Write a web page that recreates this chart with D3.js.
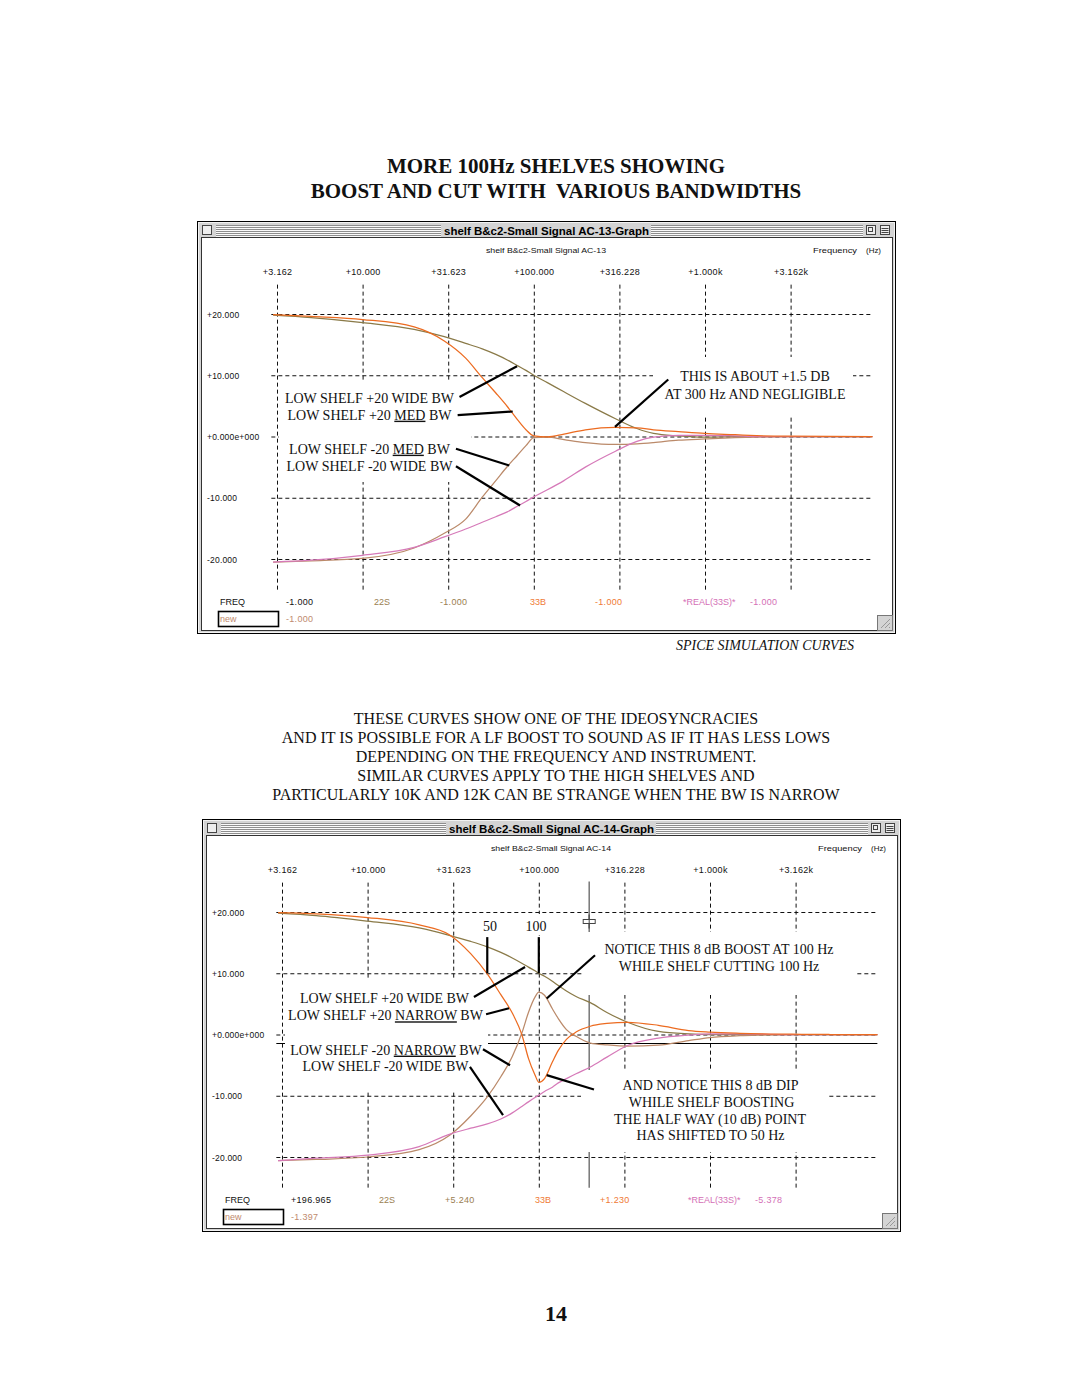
<!DOCTYPE html>
<html><head><meta charset="utf-8">
<script src="https://cdn.jsdelivr.net/npm/d3@7/dist/d3.min.js"></script>
<style>body{margin:0;background:#fff}svg{display:block}</style>
</head><body>
<svg id="page" width="1080" height="1397"></svg>
<script>
// ---------------- DATA ----------------
const xTickValues = [3.162, 10, 31.623, 100, 316.228, 1000, 3162.28];
const xTickLabels = ["+3.162", "+10.000", "+31.623", "+100.000", "+316.228", "+1.000k", "+3.162k"];
const yTickValues = [20, 10, 0, -10, -20];
const yTickLabels = ["+20.000", "+10.000", "+0.000e+000", "-10.000", "-20.000"];

// Graph AC-13 (top)
const topFreq      = [3, 5, 10, 20, 30, 40, 50, 60, 70, 80, 90, 100, 120, 150, 200, 300, 400, 500, 700, 1000, 1500, 2000, 3000, 9500];
const topWidePlus  = [19.8, 19.4, 18.6, 17.5, 16.3, 15.2, 14.3, 13.4, 12.5, 11.6, 10.8, 10.0, 8.8, 7.3, 5.4, 2.9, 1.3, 0.5, 0.1, -0.1, 0, 0, 0, 0];
const topMedPlus   = [19.9, 19.6, 19.1, 17.9, 15.6, 12.8, 9.6, 7.1, 4.9, 2.8, 1.1, 0.1, -0.05, 0.4, 1.1, 1.5, 1.4, 1.1, 0.8, 0.5, 0.3, 0.15, 0.05, 0];
const topMedMinus  = [-20.5, -20.3, -19.9, -18.2, -15.8, -13.5, -9.9, -7.2, -4.9, -3.1, -1.5, -0.2, -0.1, -0.5, -1.0, -1.3, -1.2, -1.0, -0.6, -0.4, -0.2, -0.1, 0, 0];
const topWideMinus = [-20.5, -20.2, -19.4, -18.1, -16.4, -15.1, -14.0, -13.1, -12.3, -11.4, -10.6, -9.85, -8.7, -7.2, -5.0, -2.4, -0.8, -0.1, 0.2, 0.2, 0.1, 0, 0, 0];

// Graph AC-14 (bottom)
const botFreq        = [3, 5, 10, 20, 30, 40, 50, 60, 70, 80, 87, 95, 100, 108, 120, 130, 145, 165, 200, 250, 330, 500, 750, 1000, 1500, 2000, 3000, 5000, 9500];
const botWidePlus    = [19.8, 19.4, 18.5, 17.4, 16.2, 15.2, 14.3, 13.4, 12.5, 11.6, 11.0, 10.4, 10.0, 9.5, 8.7, 8.0, 7.1, 6.2, 5.2, 3.6, 2.0, 0.5, 0.1, 0, 0, 0, 0, 0, 0];
const botNarrowPlus  = [19.9, 19.7, 19.1, 17.9, 16.3, 13.2, 9.9, 6.5, 3.5, -0.2, -3.9, -6.6, -7.8, -7.2, -4.5, -2.6, -0.8, 0.4, 1.35, 1.8, 2.0, 1.5, 0.65, 0.4, 0.2, 0.1, 0.05, 0, 0];
const botNarrowMinus = [-20.6, -20.4, -20.0, -18.8, -16.5, -13.3, -10.2, -6.9, -3.6, 0.4, 3.6, 6.1, 6.9, 6.4, 4.2, 2.6, 0.8, -0.3, -1.4, -1.7, -1.9, -1.75, -1.0, -0.5, -0.2, -0.1, 0, 0, 0];
const botWideMinus   = [-20.6, -20.2, -19.7, -18.3, -16.3, -15.3, -14.6, -13.8, -12.8, -11.7, -11.0, -10.3, -9.9, -9.3, -8.6, -7.9, -7.2, -6.4, -5.3, -3.7, -1.8, -0.6, -0.1, 0.1, 0.1, 0.05, 0, 0, 0];

// status / cursor readouts
const statusNames      = ["22S", "33B", "*REAL(33S)*", "new"];
const topFreqReadout   = "-1.000";
const topStatusValues  = ["-1.000", "-1.000", "-1.000", "-1.000"];
const botFreqReadout   = "+196.965";
const botStatusValues  = ["+5.240", "+1.230", "-5.378", "-1.397"];
const botCursorFreq = 196.965;
const botCursorDb   = -1.397;

// ---------------- STYLE ----------------
const SANS = "'Liberation Sans', Arial, sans-serif";
const SERIF = "'Liberation Serif', 'Times New Roman', serif";
const C_WIDEP = "#8a7a48", C_NARP = "#ec6b20", C_WIDEM = "#d67ab9", C_NARM = "#bb8a6a";
const C_ST = ["#9a7e50", "#ef7a35", "#d46fb6", "#c08a6e"];

const svg = d3.select("#page");

function txt(g, x, y, s, o = {}) {
  const t = g.append("text").attr("x", x).attr("y", y)
    .attr("font-family", o.family || SANS).attr("font-size", o.size || 9)
    .attr("fill", o.fill || "#111").attr("text-anchor", o.anchor || "start");
  if (o.weight) t.attr("font-weight", o.weight);
  if (o.style) t.attr("font-style", o.style);
  if (o.ls) t.attr("letter-spacing", o.ls);
  if (o.len) t.attr("textLength", o.len).attr("lengthAdjust", "spacingAndGlyphs");
  if (Array.isArray(s)) {
    s.forEach(p => {
      const ts = t.append("tspan").text(p.t);
      if (p.u) ts.attr("text-decoration", "underline");
    });
  } else t.text(s);
  return t;
}

// ---------------- PAGE TEXT ----------------
txt(svg, 556, 172.5, "MORE 100Hz SHELVES SHOWING", {family: SERIF, size: 21, weight: "bold", anchor: "middle"});
txt(svg, 556, 198, "BOOST AND CUT WITH\u00a0 VARIOUS BANDWIDTHS", {family: SERIF, size: 21, weight: "bold", anchor: "middle"});
txt(svg, 765, 650, "SPICE SIMULATION CURVES", {family: SERIF, size: 14, style: "italic", anchor: "middle"});
const para = ["THESE CURVES SHOW ONE OF THE IDEOSYNCRACIES",
  "AND IT IS POSSIBLE FOR A LF BOOST TO SOUND AS IF IT HAS LESS LOWS",
  "DEPENDING ON THE FREQUENCY AND INSTRUMENT.",
  "SIMILAR CURVES APPLY TO THE HIGH SHELVES AND",
  "PARTICULARLY 10K AND 12K CAN BE STRANGE WHEN THE BW IS NARROW"];
para.forEach((s, i) => txt(svg, 556, 723.5 + i * 19, s, {family: SERIF, size: 16, anchor: "middle"}));
txt(svg, 556, 1321, "14", {family: SERIF, size: 22, weight: "bold", anchor: "middle"});

// ---------------- GRAPH ----------------
function drawGraph(cfg) {
  const g = svg.append("g").attr("transform", `translate(${cfg.ox},${cfg.oy})`);
  // window chrome
  g.append("rect").attr("x", 197.5).attr("y", 221.5).attr("width", 698).attr("height", 412)
    .attr("fill", "#d4d4d4").attr("stroke", "#000");
  g.append("rect").attr("x", 198.5).attr("y", 222.5).attr("width", 696).attr("height", 410)
    .attr("fill", "none").attr("stroke", "#f2f2f2");
  [[216, 441], [651, 863]].forEach(([a, b]) => {
    for (let i = 0; i < 6; i++) {
      const yy = 225 + i * 2;
      g.append("line").attr("x1", a).attr("x2", b).attr("y1", yy + 0.5).attr("y2", yy + 0.5).attr("stroke", "#8e8e8e");
      g.append("line").attr("x1", a).attr("x2", b).attr("y1", yy + 1.5).attr("y2", yy + 1.5).attr("stroke", "#fafafa");
    }
  });
  txt(g, 546.5, 234.5, cfg.title, {size: 10, weight: "bold", anchor: "middle", len: 205, fill: "#000"});
  g.append("rect").attr("x", 202.5).attr("y", 225.5).attr("width", 9).attr("height", 9).attr("fill", "#eee").attr("stroke", "#444");
  [866.5, 880.5].forEach((bx, i) => {
    g.append("rect").attr("x", bx).attr("y", 225.5).attr("width", 9).attr("height", 9).attr("fill", "#eee").attr("stroke", "#444");
    if (i === 0) g.append("rect").attr("x", bx + 2).attr("y", 227.5).attr("width", 4).attr("height", 4).attr("fill", "none").attr("stroke", "#444");
    else [228.5, 230.5, 232.5].forEach(ly => g.append("line").attr("x1", bx + 1).attr("x2", bx + 8).attr("y1", ly).attr("y2", ly).attr("stroke", "#444"));
  });
  g.append("rect").attr("x", 201.5).attr("y", 237.5).attr("width", 691).attr("height", 393)
    .attr("fill", "#fff").attr("stroke", "#333");
  g.append("rect").attr("x", 877.5).attr("y", 615.5).attr("width", 15).attr("height", 15)
    .attr("fill", "#d4d4d4").attr("stroke", "#777");
  [0, 4, 8].forEach(k => g.append("line").attr("x1", 881 + k).attr("y1", 628).attr("x2", 890).attr("y2", 619 + k)
    .attr("stroke", "#999"));

  // header texts
  txt(g, 546, 253, cfg.subtitle, {size: 8, anchor: "middle", len: 120});
  txt(g, 813, 253, "Frequency", {size: 8, len: 44});
  txt(g, 866, 253, "(Hz)", {size: 8, len: 15});

  // scales
  const x = d3.scaleLog().domain([xTickValues[0], xTickValues[6]]).range([277, 277 + 6 * 85.6]);
  const y = d3.scaleLinear().domain([20, -20]).range([314, 559]);
  const gx0 = x(2.93), gx1 = x(9250), gy0 = y(25), gy1 = y(-25);

  // vertical grid
  const vg = g.append("g").attr("transform", `translate(0,${gy1})`)
    .call(d3.axisBottom(x).tickValues(xTickValues).tickSize(-(gy1 - gy0)).tickFormat(""));
  vg.select(".domain").remove();
  vg.selectAll("line").attr("stroke", "#111").attr("stroke-dasharray", "4,3");
  // horizontal grid
  const hg = g.append("g").attr("transform", `translate(${gx0},0)`)
    .call(d3.axisLeft(y).tickValues(yTickValues).tickSize(-(gx1 - gx0)).tickFormat(""));
  hg.select(".domain").remove();
  hg.selectAll("line").attr("stroke", "#111").attr("stroke-dasharray", "4,3");

  // x tick labels
  const xl = g.append("g").attr("transform", "translate(0,275)")
    .call(d3.axisTop(x).tickValues(xTickValues).tickSize(0).tickPadding(0).tickFormat((d, i) => xTickLabels[i]));
  xl.select(".domain").remove();
  xl.selectAll("text").attr("font-family", SANS).attr("font-size", 9).attr("fill", "#111").attr("dy", 0).attr("letter-spacing", 0.3);
  // y tick labels
  const yl = g.append("g").attr("transform", "translate(207,3)")
    .call(d3.axisLeft(y).tickValues(yTickValues).tickSize(0).tickPadding(0).tickFormat((d, i) => yTickLabels[i]));
  yl.select(".domain").remove();
  yl.selectAll("text").attr("font-family", SANS).attr("font-size", 8.5).attr("fill", "#111")
    .attr("text-anchor", "start").attr("x", 0).attr("dy", 0).attr("letter-spacing", 0.2);

  // cursors
  if (cfg.cursor) {
    const cyl = Math.round(y(cfg.cursor.db)) + 0.5;
    g.append("line").attr("x1", gx0).attr("x2", x(9500)).attr("y1", cyl).attr("y2", cyl)
      .attr("stroke", "#000").attr("stroke-width", 1);
    const cx = x(cfg.cursor.f);
    g.append("line").attr("x1", cx).attr("x2", cx).attr("y1", gy0).attr("y2", gy1).attr("stroke", "#777").attr("stroke-width", 1.5);
  }

  // white boxes behind annotation text
  cfg.boxes.forEach(b => g.append("rect").attr("x", b[0]).attr("y", b[1]).attr("width", b[2] - b[0]).attr("height", b[3] - b[1]).attr("fill", "#fff"));

  if (cfg.cursor) {
    const cx = x(cfg.cursor.f), cy = y(cfg.cursor.handleDb);
    g.append("line").attr("x1", cx).attr("x2", cx).attr("y1", cy - 7).attr("y2", cy + 7).attr("stroke", "#555").attr("stroke-width", 1.5);
    g.append("rect").attr("x", cx - 6).attr("y", cy - 2).attr("width", 12).attr("height", 4).attr("fill", "#fff").attr("stroke", "#444");
    g.append("line").attr("x1", cx).attr("x2", cx).attr("y1", cy - 2).attr("y2", cy + 2).attr("stroke", "#444");
  }

  // curves
  const line = d3.line().x(d => x(d.f)).y(d => y(d.v)).curve(d3.curveMonotoneX);
  cfg.series.forEach(s => {
    const pts = cfg.freq.map((f, i) => ({f, v: s.values[i]}));
    g.append("path").attr("d", line(pts)).attr("fill", "none").attr("stroke", s.color).attr("stroke-width", 1.25);
  });

  // leaders
  cfg.leaders.forEach(l => g.append("line").attr("x1", x(l[0])).attr("y1", y(l[1])).attr("x2", x(l[2])).attr("y2", y(l[3]))
    .attr("stroke", "#000").attr("stroke-width", 2.2));
  // notes
  cfg.notes.forEach(n => txt(g, n.x, n.y, n.t, {family: SERIF, size: 14, anchor: "middle", fill: "#111"}));

  // status rows
  txt(g, 220, 604.5, "FREQ", {size: 9});
  txt(g, 286, 604.5, cfg.freqReadout, {size: 9, ls: 0.3});
  const stX = [[374, 440], [530, 595], [683, 750]];
  stX.forEach((p, i) => {
    txt(g, p[0], 604.5, statusNames[i], {size: 9, fill: C_ST[i]});
    txt(g, p[1], 604.5, cfg.values[i], {size: 9, fill: C_ST[i], ls: 0.3});
  });
  g.append("rect").attr("x", 218.5).attr("y", 611.5).attr("width", 60).attr("height", 15)
    .attr("fill", "#fff").attr("stroke", "#000").attr("stroke-width", 1.6);
  txt(g, 220, 622, statusNames[3], {size: 9, fill: C_ST[3]});
  txt(g, 286, 622, cfg.values[3], {size: 9, fill: C_ST[3], ls: 0.3});
}

drawGraph({
  ox: 0, oy: 0,
  title: "shelf B&c2-Small Signal AC-13-Graph",
  subtitle: "shelf B&c2-Small Signal AC-13",
  freq: topFreq,
  series: [
    {values: topWidePlus, color: C_WIDEP},
    {values: topMedMinus, color: C_NARM},
    {values: topWideMinus, color: C_WIDEM},
    {values: topMedPlus, color: C_NARP}
  ],
  boxes: [[279, 381, 471, 482], [653, 357, 853, 415]],
  leaders: [
    [36.8, 6.45, 79.8, 11.48],
    [35.9, 3.48, 75.3, 4.08],
    [35.1, -2.01, 71.9, -4.73],
    [35.1, -4.85, 83.1, -11.27],
    [610, 9.31, 298, 1.58]
  ],
  notes: [
    {x: 369.5, y: 402.7, t: "LOW SHELF +20 WIDE BW"},
    {x: 369.5, y: 419.7, t: [{t: "LOW SHELF +20 "}, {t: "MED", u: 1}, {t: " BW"}]},
    {x: 369.5, y: 453.7, t: [{t: "LOW SHELF -20 "}, {t: "MED", u: 1}, {t: " BW"}]},
    {x: 369.5, y: 470.7, t: "LOW SHELF -20 WIDE BW"},
    {x: 755, y: 381.3, t: "THIS IS ABOUT +1.5 DB"},
    {x: 755, y: 398.6, t: "AT 300 Hz AND NEGLIGIBLE"}
  ],
  freqReadout: topFreqReadout,
  values: topStatusValues
});

drawGraph({
  ox: 5, oy: 598,
  title: "shelf B&c2-Small Signal AC-14-Graph",
  subtitle: "shelf B&c2-Small Signal AC-14",
  freq: botFreq,
  series: [
    {values: botWidePlus, color: C_WIDEP},
    {values: botNarrowMinus, color: C_NARM},
    {values: botWideMinus, color: C_WIDEM},
    {values: botNarrowPlus, color: C_NARP}
  ],
  cursor: {f: botCursorFreq, db: botCursorDb, handleDb: 18.45},
  boxes: [[280, 382, 483, 492], [577, 334, 850, 397], [576, 472, 824, 554], [519, 316, 545, 337]],
  leaders: [
    [41.8, 6.13, 83.1, 11.03],
    [49.2, 3.31, 67.0, 4.29],
    [47.2, -2.40, 67.9, -5.01],
    [39.6, -5.29, 61.8, -13.16],
    [213, 12.94, 111.2, 5.87],
    [111.2, -6.64, 210, -8.97],
    [50, 10, 50, 15.9],
    [100, 10, 100, 15.9]
  ],
  notes: [
    {x: 379.5, y: 404.6, t: "LOW SHELF +20 WIDE BW"},
    {x: 380.5, y: 422.3, t: [{t: "LOW SHELF +20 "}, {t: "NARROW", u: 1}, {t: " BW"}]},
    {x: 381, y: 456.6, t: [{t: "LOW SHELF -20 "}, {t: "NARROW", u: 1}, {t: " BW"}]},
    {x: 380.5, y: 473.3, t: "LOW SHELF -20 WIDE BW"},
    {x: 714, y: 355.5, t: "NOTICE THIS 8 dB BOOST AT 100 Hz"},
    {x: 714, y: 372.5, t: "WHILE SHELF CUTTING 100 Hz"},
    {x: 705.5, y: 491.5, t: "AND NOTICE THIS 8 dB DIP"},
    {x: 706.5, y: 508.5, t: "WHILE SHELF BOOSTING"},
    {x: 705, y: 525.5, t: "THE HALF WAY (10 dB) POINT"},
    {x: 705.5, y: 542.3, t: "HAS SHIFTED TO 50 Hz"},
    {x: 485, y: 332.6, t: "50"},
    {x: 531, y: 332.6, t: "100"}
  ],
  freqReadout: botFreqReadout,
  values: botStatusValues
});
</script>
</body></html>
